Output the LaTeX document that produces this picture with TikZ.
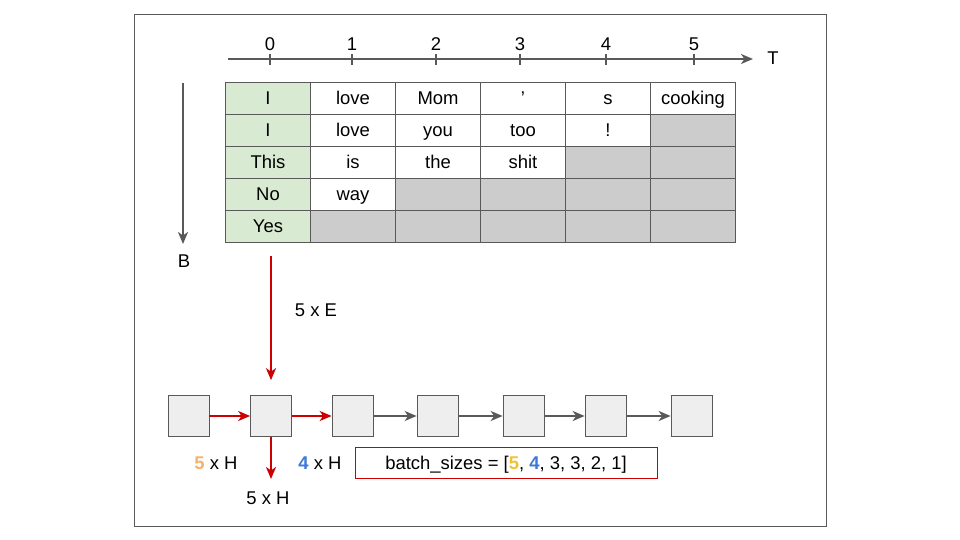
\documentclass[tikz,border=0pt]{standalone}
\usepackage{fontspec}
\setmainfont{Liberation Sans}
\usepackage{tikz}
\usetikzlibrary{arrows,arrows.meta,positioning}
\definecolor{headgreen}{HTML}{D9EAD3}
\definecolor{padgray}{HTML}{CCCCCC}
\definecolor{linegray}{HTML}{595959}
\definecolor{boxgray}{HTML}{EEEEEE}
\definecolor{arrowred}{HTML}{CC0000}
\definecolor{fiveorange}{HTML}{F6B26B}
\definecolor{fiveyellow}{HTML}{F1C232}
\definecolor{fourblue}{HTML}{3C78D8}
\tikzstyle{every node}=[font=\fontsize{10.5}{12}\selectfont, text height=8.6pt, text depth=1.2pt]
\tikzstyle{cell}=[draw=linegray, minimum width=1.7cm, minimum height=0.64cm, inner sep=0pt]
\tikzstyle{head}=[cell, fill=headgreen]
\tikzstyle{word}=[cell, fill=white]
\tikzstyle{pad}=[cell, fill=padgray]
\tikzstyle{rnn}=[draw=linegray, fill=boxgray, minimum size=0.82cm, inner sep=0pt]
\tikzstyle{flow}=[->, >={Stealth[length=0.24cm, width=0.2cm, inset=0.07cm]}, line width=1.2pt, draw=linegray]
\tikzstyle{redflow}=[flow, draw=arrowred]
\newcommand{\hl}[2]{\textcolor{#1}{\textbf{#2}}}

\begin{document}
\begin{tikzpicture}[x=0.02cm, y=-0.02cm]
	\useasboundingbox (0,0) rectangle (960,540);
	\draw[linegray] (134,14) rectangle (826,526);
	% time axis
	\coordinate (tstart) at (228,59);
	\coordinate (tend) at (753,59);
	\draw[flow] (tstart) -- (tend);
	\node (tlabel) at (773,58) {T};
	\foreach \i/\x in {0/270,1/352,2/436,3/520,4/606,5/694}{
		\draw[linegray, line width=1.2pt] (\x,54) -- (\x,65);
		\node (tick\i) at (\x,44) {\i};
	}
	% batch axis
	\coordinate (bstart) at (183,83);
	\coordinate (bend) at (183,244);
	\draw[flow] (bstart) -- (bend);
	\node (blabel) at (184,261) {B};
	% padded batch
	\foreach \c/\s/\t in {0/head/I,1/word/love,2/word/Mom,3/word/',4/word/s,5/word/cooking}
		\node[\s] (r1c\c) at ({268+85*\c},98) {\t};
	\foreach \c/\s/\t in {0/head/I,1/word/love,2/word/you,3/word/too,4/word/!,5/pad/}
		\node[\s] (r2c\c) at ({268+85*\c},130) {\t};
	\foreach \c/\s/\t in {0/head/This,1/word/is,2/word/the,3/word/shit,4/pad/,5/pad/}
		\node[\s] (r3c\c) at ({268+85*\c},162) {\t};
	\foreach \c/\s/\t in {0/head/No,1/word/way,2/pad/,3/pad/,4/pad/,5/pad/}
		\node[\s] (r4c\c) at ({268+85*\c},194) {\t};
	\foreach \c/\s/\t in {0/head/Yes,1/pad/,2/pad/,3/pad/,4/pad/,5/pad/}
		\node[\s] (r5c\c) at ({268+85*\c},226) {\t};
	% rnn steps
	\foreach \i/\x in {1/188.5,2/271,3/352.5,4/437.5,5/523.5,6/605.5,7/691.5}
		\node[rnn] (step\i) at (\x,416) {};
	\draw[redflow] (step1) -- (step2);
	\draw[redflow] (step2) -- (step3);
	\foreach \a/\b in {3/4,4/5,5/6,6/7}
		\draw[flow] (step\a) -- (step\b);
	\coordinate (emb) at (271,256);
	\draw[redflow, shorten >=0.3cm] (emb) -- (step2.north);
	\node (emblabel) at (316,310) {5 x E};
	\coordinate (out) at (271,479);
	\draw[redflow] (step2.south) -- (out);
	\node (outlabel) at (268,498) {5 x H};
	\node (hfive) at (216,463) {\hl{fiveorange}{5} x H};
	\node (hfour) at (320,463) {\hl{fourblue}{4} x H};
	\node[draw=arrowred, minimum width=6.04cm, minimum height=0.62cm, inner sep=0pt] (sizes) at (506,462.5)
		{batch\_sizes = [\hl{fiveyellow}{5}, \hl{fourblue}{4}, 3, 3, 2, 1]};
\end{tikzpicture}
\end{document}
